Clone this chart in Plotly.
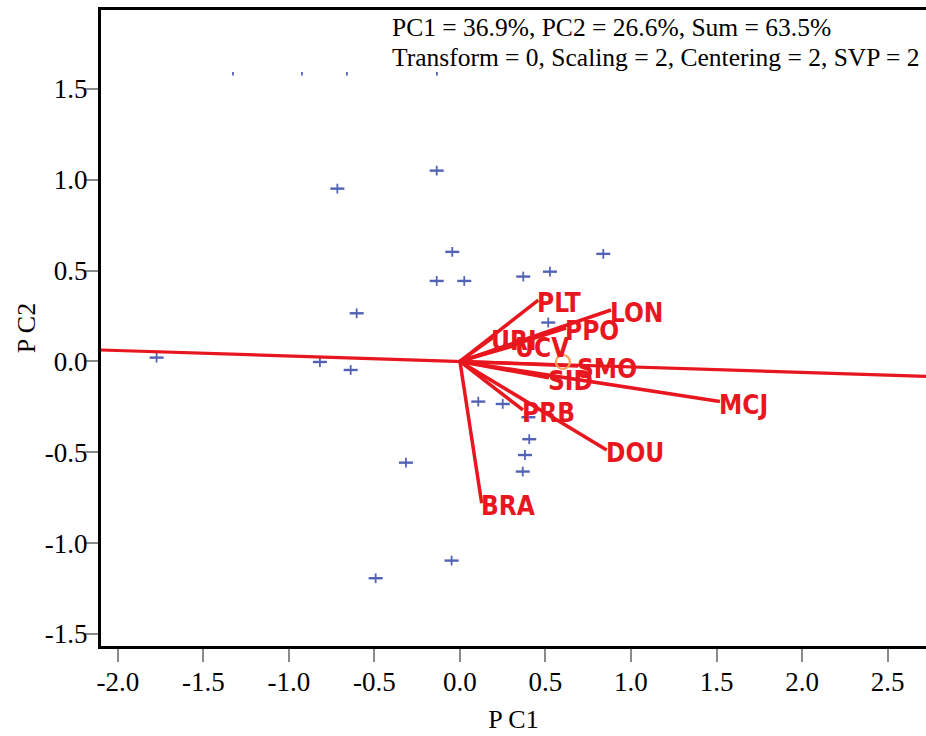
import plotly.graph_objects as go

# Sample scores on the first two principal components
score_pc1 = [-0.136, -0.717, -0.045, -0.136, 0.025, -0.604, -1.774, -0.819, -0.639,
             -0.493, -0.049, -0.316, 0.107, 0.250, 0.400, 0.405, 0.380, 0.367,
             0.516, 0.370, 0.526, 0.838,
             -1.327, -0.924, -0.661, -0.135]
score_pc2 = [1.050, 0.951, 0.603, 0.443, 0.443, 0.265, 0.021, -0.003, -0.047,
             -1.193, -1.096, -0.557, -0.221, -0.234, -0.307, -0.428, -0.515, -0.606,
             0.214, 0.467, 0.494, 0.592,
             1.600, 1.600, 1.600, 1.600]

# Variable loadings (biplot vectors)
var_names = ["PLT", "LON", "PPO", "URI", "UCV", "SMO", "SID", "MCJ", "DOU", "PRB", "BRA"]
load_pc1 = [0.458, 0.883, 0.620, 0.190, 0.330, 0.690, 0.520, 1.520, 0.858, 0.368, 0.127]
load_pc2 = [0.338, 0.283, 0.184, 0.130, 0.090, -0.025, -0.090, -0.221, -0.487, -0.267, -0.780]

# Reference line through the origin
ref_line_x = [-2.10, 2.73]
ref_line_y = [0.063, -0.082]

# Small ring marker near the vector origin
ring_x = [0.602]
ring_y = [-0.003]

x_ticks = [-2.0, -1.5, -1.0, -0.5, 0.0, 0.5, 1.0, 1.5, 2.0, 2.5]
y_ticks = [-1.5, -1.0, -0.5, 0.0, 0.5, 1.0, 1.5]

info_line1 = "PC1 = 36.9%, PC2 = 26.6%, Sum = 63.5%"
info_line2 = "Transform = 0, Scaling = 2, Centering = 2, SVP = 2"

RED = "#e8161e"
BLUE = "#5263b6"
SERIF = "Liberation Serif, Times New Roman, serif"
NARROW = "Liberation Sans Narrow, Arial Narrow, DejaVu Sans Condensed, sans-serif"

fig = go.Figure()

# score points drawn as small crosses (wide horizontal arm, short vertical arm)
fig.add_trace(go.Scatter(
    x=score_pc1, y=score_pc2, mode="markers", hoverinfo="skip",
    marker=dict(symbol="line-ew", size=10, line=dict(color=BLUE, width=2.4)),
))
fig.add_trace(go.Scatter(
    x=score_pc1, y=score_pc2, mode="markers", hoverinfo="skip",
    marker=dict(symbol="line-ns", size=7, line=dict(color=BLUE, width=1.8)),
))

# long reference line
fig.add_trace(go.Scatter(
    x=ref_line_x, y=ref_line_y, mode="lines", hoverinfo="skip",
    line=dict(color=RED, width=3.2),
))

# loading vectors from the origin
vx, vy = [], []
for a, b in zip(load_pc1, load_pc2):
    vx += [0, a, None]
    vy += [0, b, None]
fig.add_trace(go.Scatter(
    x=vx, y=vy, mode="lines", hoverinfo="skip",
    line=dict(color=RED, width=3.5),
))

fig.add_trace(go.Scatter(
    x=ring_x, y=ring_y, mode="markers", hoverinfo="skip",
    marker=dict(symbol="circle-open", size=14, line=dict(color=RED, width=2.2)),
))

annotations = []

# vector labels
for name, a, b in zip(var_names, load_pc1, load_pc2):
    annotations.append(dict(
        x=a, y=b, text=name, showarrow=False, xanchor="left", yanchor="middle",
        xshift=-3, yshift=-3,
        font=dict(family=NARROW, size=26, color=RED, weight="bold"),
    ))

# summary text in the upper right
annotations.append(dict(
    x=-0.409, y=1.835, xref="x", yref="y", xanchor="left", yanchor="middle",
    text=info_line1, showarrow=False, font=dict(family=SERIF, size=25.5, color="black"),
))
annotations.append(dict(
    x=-0.409, y=1.670, xref="x", yref="y", xanchor="left", yanchor="middle",
    text=info_line2, showarrow=False, font=dict(family=SERIF, size=25.5, color="black"),
))

# white box behind the summary text
shapes = [dict(
    type="rect", xref="x", yref="y", x0=-2.085, x1=2.73, y0=1.593, y1=1.92,
    fillcolor="white", line=dict(width=0), layer="above",
)]

fig.update_layout(
    width=926, height=736,
    margin=dict(l=101, r=0, t=10, b=90),
    paper_bgcolor="white", plot_bgcolor="white",
    showlegend=False,
    font=dict(family=SERIF, size=27, color="black"),
    annotations=annotations,
    shapes=shapes,
)

fig.update_xaxes(
    range=[-2.099, 2.725], tickvals=x_ticks, ticktext=[f"{v:.1f}" for v in x_ticks],
    showgrid=False, zeroline=False,
    showline=True, linecolor="black", linewidth=3, mirror=True,
    ticks="outside", ticklen=13, tickwidth=2, tickcolor="#8a8a8a",
    ticklabelstandoff=-3,
    title=dict(text="P C1", font=dict(family=SERIF, size=26), standoff=14),
)
fig.update_yaxes(
    range=[-1.566, 1.934], tickvals=y_ticks, ticktext=[f"{v:.1f}" for v in y_ticks],
    showgrid=False, zeroline=False,
    showline=True, linecolor="black", linewidth=3, mirror=False,
    ticks="outside", ticklen=14, tickwidth=2, tickcolor="#8a8a8a",
    ticklabelstandoff=-9,
    title=dict(text="P C2", font=dict(family=SERIF, size=26), standoff=2),
)

fig.write_html("out.html")
